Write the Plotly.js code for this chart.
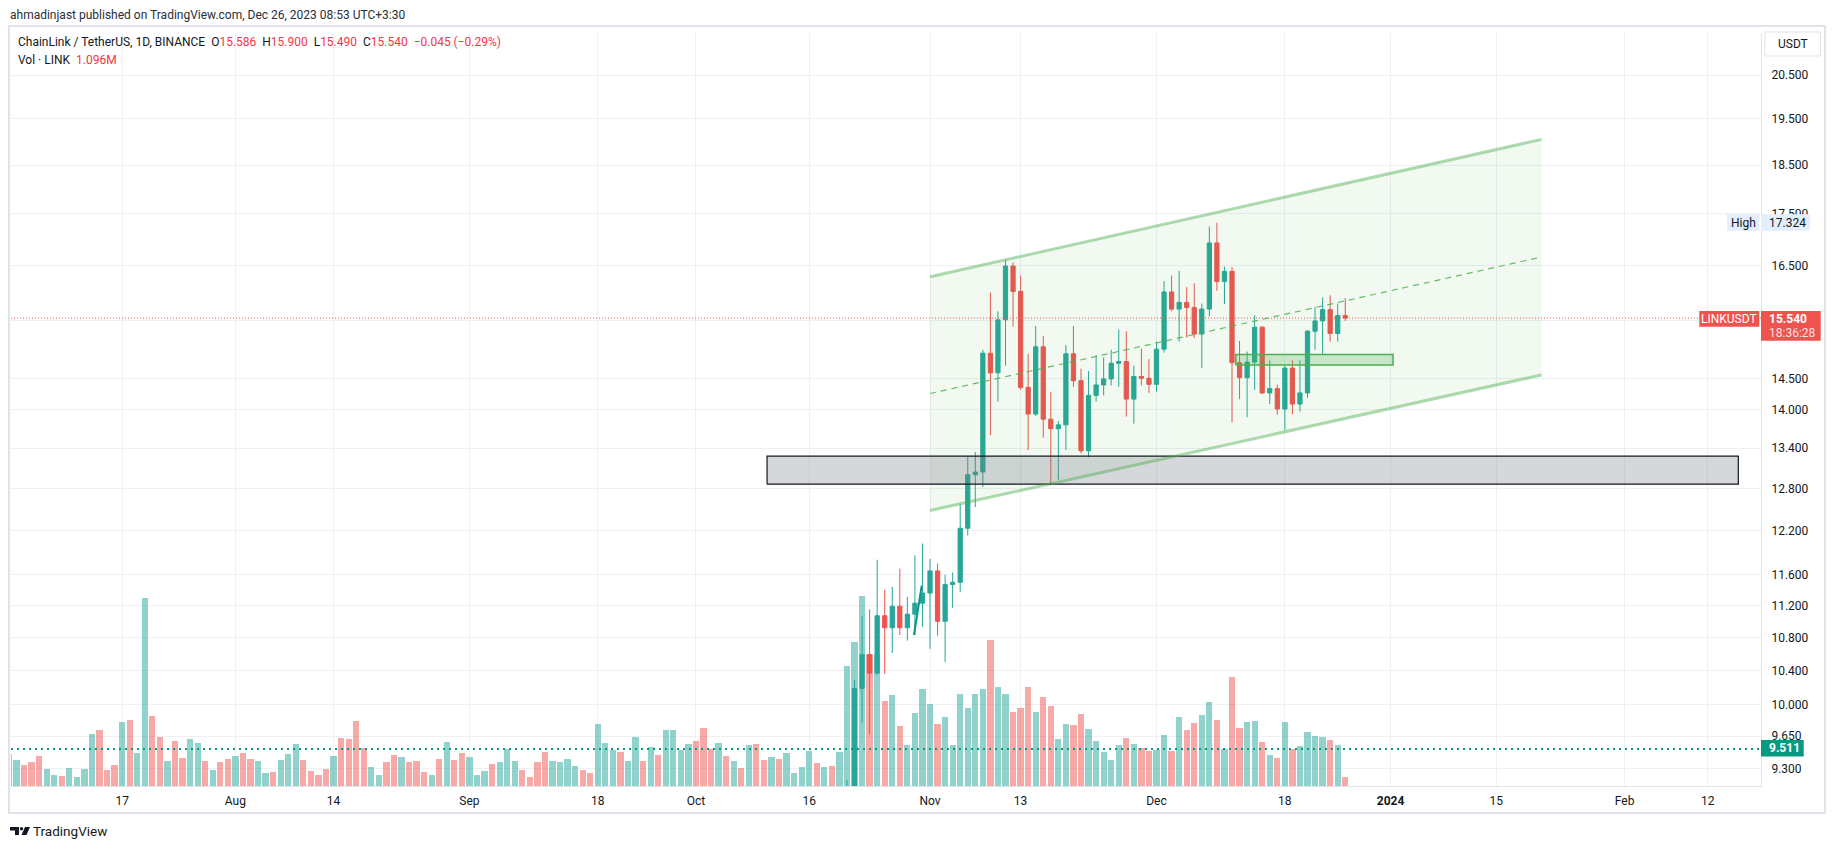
<!DOCTYPE html>
<html><head><meta charset="utf-8">
<script src="https://cdn.plot.ly/plotly-3.0.1.min.js"></script>
<style>html,body{margin:0;padding:0;background:#fff;} #chart{width:1835px;height:849px;}</style>
</head><body><div id="chart"></div>
<script>
// ---------------- DATA ----------------
const candleStart = '2023-10-21';
const opens  = [8.98, 8.98,10.19,10.59,10.37,11.07,10.92,11.19,10.92,11.09,11.23,
  11.36,11.65,11.00,11.47,11.50,12.23,13.00,13.04,14.93,14.60,15.51,16.49,16.02,14.36,13.93,15.04,13.85,13.70,13.76,14.92,14.47,13.36,14.23,14.40,14.50,14.76,14.79,14.17,14.54,14.51,
  14.41,15.00,16.01,15.70,15.82,15.73,15.26,15.70,16.93,16.20,16.39,14.77,14.52,14.78,15.38,14.27,14.34,14.01,14.68,14.09,14.27,15.31,15.49,15.69,15.27,15.586];
const highs  = [9.18,10.29,11.07,11.15,11.80,11.40,11.44,11.68,11.31,11.86,12.02,
  11.81,11.75,11.60,11.63,12.57,13.27,13.34,14.99,16.00,15.66,16.61,16.56,16.31,14.92,15.40,15.23,14.29,13.82,15.07,15.40,14.67,14.63,14.90,14.86,14.99,15.34,15.31,14.72,15.01,14.83,
  15.13,16.21,16.31,16.40,16.10,16.17,15.80,17.25,17.324,16.48,16.47,15.14,14.96,15.59,15.40,14.81,14.40,14.72,14.81,14.81,15.33,15.74,15.91,15.95,15.80,15.900];
const lows   = [8.45, 8.90, 9.80, 9.67,10.35,10.36,10.61,10.83,10.76,10.83,10.93,
  10.66,10.82,10.50,11.17,11.37,12.13,12.53,12.82,13.60,14.13,14.72,15.39,14.32,13.37,13.90,13.56,12.85,12.92,13.37,14.37,13.32,13.26,14.13,14.23,14.39,14.37,13.89,13.78,14.39,14.27,
  14.29,14.94,15.66,15.13,15.20,15.19,14.68,15.57,16.03,15.79,13.80,14.17,13.88,14.32,14.25,14.09,13.92,13.68,13.93,13.97,14.19,14.99,14.91,15.13,15.13,15.490];
const closes = [8.98,10.19,10.59,10.37,11.07,10.92,11.19,10.92,11.09,11.23,11.36,
  11.65,11.00,11.47,11.50,12.23,13.00,13.04,14.93,14.60,15.51,16.49,16.02,14.36,13.93,15.04,13.85,13.70,13.76,14.92,14.47,13.36,14.23,14.40,14.50,14.76,14.79,14.17,14.54,14.51,14.41,
  15.00,16.01,15.70,15.82,15.73,15.26,15.70,16.93,16.20,16.39,14.77,14.52,14.78,15.38,14.27,14.34,14.01,14.68,14.09,14.27,15.31,15.49,15.69,15.27,15.586,15.540];

const volStart = '2023-07-02';
// volume, millions of LINK
const volumes = [
  3.90,3.17,2.56,2.93,3.66,2.07,1.34,1.22,2.20,1.10,2.07,6.34,6.83,1.95,2.56,7.81,8.05,4.03,22.94,8.54,5.98,3.05,5.49,3.42,5.73,5.25,3.05,1.95,2.93,3.29,
  3.66,4.03,3.29,3.05,1.59,1.71,3.17,3.90,5.12,3.17,1.83,1.34,2.07,3.66,5.86,5.73,7.93,4.64,2.32,1.34,2.93,3.78,3.54,2.93,3.05,1.71,1.34,3.29,5.37,3.17,4.03,
  3.54,1.34,1.83,2.68,2.93,4.51,3.05,1.95,1.10,2.93,4.15,3.05,2.93,3.29,2.44,1.95,1.59,7.56,5.25,4.39,4.15,3.05,5.98,3.05,4.76,3.78,6.83,6.83,4.39,5.12,
  5.49,7.08,4.51,5.25,3.66,3.05,2.20,5.00,5.12,3.17,3.54,3.29,4.03,1.59,2.32,4.27,2.81,2.32,2.44,4.15,14.64,17.57,23.18,16.07,16.07,10.33,11.07,7.32,4.97,8.87,11.83,
  9.97,7.53,8.38,4.97,11.19,9.52,11.19,11.83,17.78,12.08,11.19,8.99,9.48,12.04,8.99,10.82,9.72,5.70,7.53,7.41,8.75,6.92,5.45,4.11,3.14,4.97,5.82,5.09,4.60,4.23,
  4.36,6.19,4.23,8.38,6.80,7.65,8.63,10.21,8.02,4.48,13.26,7.04,7.77,7.89,5.33,3.75,3.38,7.77,4.48,4.84,6.55,6.06,5.94,5.58,4.97,1.096];
// up (G) / down (R) days before the first drawn candle (Jul 2 .. Oct 20)
const earlyVolDir = ('GGRRRGGRGGGGRRRGRGGRRGRRGGRGRR' + 'GRRGGRGGGRRRRGRRRRGGRRGRRRGRGRR' +
                     'GGGRGGGRRRRGGGGRRGGGRGGRGRGGGG' + 'RRRGRGRGRRGRGGGGRGRG').split('');

const priceTicks = [9.3, 9.65, 10, 10.4, 10.8, 11.2, 11.6, 12.2, 12.8, 13.4, 14, 14.5, 15.5, 16.5, 17.5, 18.5, 19.5, 20.5];
const dateTicks = ['2023-07-17','2023-08-01','2023-08-14','2023-09-01','2023-09-18','2023-10-01','2023-10-16','2023-11-01','2023-11-13','2023-12-01','2023-12-18','2024-01-01','2024-01-15','2024-02-01','2024-02-12'];
const dateTickLabels = ['17','Aug','14','Sep','18','Oct','16','Nov','13','Dec','18','<b>2024</b>','15','Feb','12'];

// drawings
const channelX = ['2023-11-01', '2024-01-21'];
const channelUpper = [16.29, 19.05];
const channelMid = [14.26, 16.66];
const channelLower = [12.48, 14.565];
const zoneX = ['2023-10-10 10:00', '2024-02-16 01:30'];
const zoneY = [12.86, 13.277];
const boxX = ['2023-12-11 12:00', '2024-01-01 08:00'];
const boxY = [14.73, 14.91];
const trendX = ['2023-10-29 21:00', '2023-10-30 21:36'];
const trendY = [10.83, 11.457];
const hLineLevel = 9.511;
const lastPrice = 15.540;
const highLevel = 17.324;
const lastVolume = '1.096M';
const countdown = '18:36:28';

// ---------------- BUILD ----------------
const DAY = 86400000;
function dayStr(start, i) {
  return new Date(Date.parse(start + 'T00:00:00Z') + i * DAY).toISOString().slice(0, 10);
}
const candleDates = opens.map((_, i) => dayStr(candleStart, i));
const volDates = volumes.map((_, i) => dayStr(volStart, i));
const firstCandleIdx = volDates.indexOf(candleStart);
const volUp = volDates.map((d, i) => {
  if (i < firstCandleIdx) return earlyVolDir[i] === 'G';
  const j = i - firstCandleIdx;
  return closes[j] >= opens[j];
});

const UP = '#26a69a', DN = '#ef5350';
const FONT = 'Roboto, "Liberation Sans", sans-serif';
const X_RANGE = ['2023-07-02 06:40', '2024-02-19 01:35'];
const PLOT = {l: 11, r: 1761, t: 33, b: 786};
const px = x => (x - PLOT.l) / (PLOT.r - PLOT.l);
const py = y => (PLOT.b - y) / (PLOT.b - PLOT.t);

const traces = [];
// volume (base y axis)
traces.push({
  type: 'bar', x: volDates, y: volumes, xaxis: 'x', yaxis: 'y',
  width: 0.83 * DAY,
  marker: {color: volUp.map(u => u ? 'rgba(38,166,154,0.5)' : 'rgba(239,83,80,0.5)'), line: {width: 0}},
  hoverinfo: 'skip'
});
// channel fill
traces.push({
  type: 'scatter', mode: 'lines', xaxis: 'x', yaxis: 'y2',
  x: [channelX[0], channelX[1], channelX[1], channelX[0], channelX[0]],
  y: [channelUpper[0], channelUpper[1], channelLower[1], channelLower[0], channelUpper[0]],
  fill: 'toself', fillcolor: 'rgba(76,175,80,0.08)', line: {width: 0}, hoverinfo: 'skip'
});
// support zone
traces.push({
  type: 'scatter', mode: 'lines', xaxis: 'x', yaxis: 'y2',
  x: [zoneX[0], zoneX[1], zoneX[1], zoneX[0], zoneX[0]],
  y: [zoneY[0], zoneY[0], zoneY[1], zoneY[1], zoneY[0]],
  fill: 'toself', fillcolor: 'rgba(120,123,134,0.3)', line: {width: 1.2, color: '#131722'}, hoverinfo: 'skip'
});
// small green box
traces.push({
  type: 'scatter', mode: 'lines', xaxis: 'x', yaxis: 'y2',
  x: [boxX[0], boxX[1], boxX[1], boxX[0], boxX[0]],
  y: [boxY[0], boxY[0], boxY[1], boxY[1], boxY[0]],
  fill: 'toself', fillcolor: 'rgba(76,175,80,0.25)', line: {width: 1.5, color: '#4caf50'}, hoverinfo: 'skip'
});
// candles
traces.push({
  type: 'candlestick', x: candleDates, open: opens, high: highs, low: lows, close: closes,
  xaxis: 'x', yaxis: 'y2', whiskerwidth: 0,
  increasing: {line: {color: UP, width: 1}, fillcolor: UP},
  decreasing: {line: {color: DN, width: 1}, fillcolor: DN},
  hoverinfo: 'skip'
});
// channel lines
[channelUpper, channelLower].forEach(yy => traces.push({
  type: 'scatter', mode: 'lines', xaxis: 'x', yaxis: 'y2', x: channelX, y: yy,
  line: {color: 'rgba(76,175,80,0.45)', width: 3}, hoverinfo: 'skip'
}));
traces.push({
  type: 'scatter', mode: 'lines', xaxis: 'x', yaxis: 'y2', x: channelX, y: channelMid,
  line: {color: 'rgba(76,175,80,0.85)', width: 1.2, dash: '6px,5px'}, hoverinfo: 'skip'
});
// small trend line
traces.push({
  type: 'scatter', mode: 'lines', xaxis: 'x', yaxis: 'y2', x: trendX, y: trendY,
  line: {color: '#089981', width: 2}, hoverinfo: 'skip'
});
// horizontal levels
traces.push({
  type: 'scatter', mode: 'lines', xaxis: 'x', yaxis: 'y2', x: X_RANGE, y: [hLineLevel, hLineLevel],
  line: {color: '#089981', width: 2, dash: '2px,4px'}, hoverinfo: 'skip'
});
traces.push({
  type: 'scatter', mode: 'lines', xaxis: 'x', yaxis: 'y2', x: X_RANGE, y: [lastPrice, lastPrice],
  line: {color: '#ef5350', width: 1, dash: '1px,2px'}, hoverinfo: 'skip'
});

const pTop = 21.505, pBot = 9.1178;
const VOL_PER_PX = 0.122;

function rect(x0, y0, x1, y1, fill, line, lw) {
  return {type: 'rect', xref: 'paper', yref: 'paper', x0: px(x0), x1: px(x1), y0: py(y0), y1: py(y1),
    fillcolor: fill, line: {color: line || 'rgba(0,0,0,0)', width: lw || 0}, layer: 'above'};
}
function pathPx(pts, fill) {
  const d = pts.map((p, i) => (i ? 'L' : 'M') + px(p[0]).toFixed(5) + ',' + py(p[1]).toFixed(5)).join(' ') + ' Z';
  return {type: 'path', xref: 'paper', yref: 'paper', path: d, fillcolor: fill, line: {width: 0}, layer: 'above'};
}
function ann(x, y, text, o) {
  o = o || {};
  return {xref: 'paper', yref: 'paper', x: px(x), y: py(y), text: text, showarrow: false,
    xanchor: o.xanchor || 'left', yanchor: 'middle', borderpad: 0,
    font: {family: FONT, size: o.size || 12, color: o.color || '#131722'}};
}

const RED = '#f23645';
const shapes = [
  rect(9, 26, 1825, 813, 'rgba(0,0,0,0)', '#e0e3eb', 2),
  rect(1765, 32, 1820.5, 56, '#ffffff', '#e0e3eb', 1),
  rect(1727, 214.3, 1759.3, 230.7, '#e3effd'),
  rect(1761, 214.3, 1810, 230.7, '#e3effd'),
  rect(1699.3, 311, 1759.3, 326.7, '#ef5350'),
  rect(1761, 311, 1820.7, 340.7, '#ef5350'),
  rect(1761, 740, 1803.7, 756.5, '#089981'),
  // TradingView logo
  pathPx([[10, 827], [19, 827], [19, 835], [15, 835], [15, 830.5], [10, 830.5]], '#131722'),
  {type: 'circle', xref: 'paper', yref: 'paper', x0: px(19.8), x1: px(23.2), y0: py(827), y1: py(830.4), fillcolor: '#131722', line: {width: 0}, layer: 'above'},
  pathPx([[25, 827], [30, 827], [26.5, 835], [21.5, 835]], '#131722')
];

const legendText = 'ChainLink / TetherUS, 1D, BINANCE\u00a0\u00a0' +
  'O<span style="color:' + RED + '">' + opens[opens.length - 1].toFixed(3) + '</span>\u00a0\u00a0' +
  'H<span style="color:' + RED + '">' + highs[highs.length - 1].toFixed(3) + '</span>\u00a0\u00a0' +
  'L<span style="color:' + RED + '">' + lows[lows.length - 1].toFixed(3) + '</span>\u00a0\u00a0' +
  'C<span style="color:' + RED + '">' + closes[closes.length - 1].toFixed(3) + '</span>\u00a0\u00a0' +
  '<span style="color:' + RED + '">\u22120.045 (\u22120.29%)</span>';

const annotations = [
  ann(9, 15, 'ahmadinjast published on TradingView.com, Dec 26, 2023 08:53 UTC+3:30', {color: '#2a2e39'}),
  ann(17, 42.3, legendText),
  ann(17, 60, 'Vol \u00b7 LINK\u00a0\u00a0<span style="color:' + RED + '">' + lastVolume + '</span>'),
  ann(1793, 44, 'USDT', {xanchor: 'center'}),
  ann(1743, 222.5, 'High', {xanchor: 'center'}),
  ann(1768, 222.5, highLevel.toFixed(3)),
  ann(1729.3, 319, 'LINKUSDT', {xanchor: 'center', color: '#ffffff'}),
  ann(1768, 318.5, '<b>' + lastPrice.toFixed(3) + '</b>', {color: '#ffffff'}),
  ann(1768, 333, countdown, {color: 'rgba(255,255,255,0.85)'}),
  ann(1768, 748.3, '<b>' + hLineLevel.toFixed(3) + '</b>', {color: '#ffffff'}),
  ann(32, 831, 'TradingView', {size: 13.5, color: '#131722'})
];

const GRID = '#eef0f3';
const layout = {
  width: 1835, height: 849,
  margin: {l: PLOT.l, r: 1835 - PLOT.r, t: PLOT.t, b: 849 - PLOT.b, pad: 0},
  paper_bgcolor: '#ffffff', plot_bgcolor: '#ffffff',
  showlegend: false, boxgap: 0.2, bargap: 0,
  font: {family: FONT, size: 12, color: '#131722'},
  xaxis: {
    type: 'date', range: X_RANGE, tickvals: dateTicks, ticktext: dateTickLabels,
    showgrid: true, gridcolor: GRID, gridwidth: 1, zeroline: false,
    showline: true, linecolor: '#e0e3eb', linewidth: 1, ticks: '', ticklabelstandoff: 4,
    tickfont: {family: FONT, size: 12, color: '#131722'},
    rangeslider: {visible: false}, fixedrange: true
  },
  yaxis: {range: [0, (PLOT.b - PLOT.t) * VOL_PER_PX], visible: false, showgrid: false, zeroline: false, fixedrange: true},
  yaxis2: {
    type: 'log', overlaying: 'y', side: 'right', anchor: 'x',
    range: [Math.log10(pBot), Math.log10(pTop)],
    tickvals: priceTicks, ticktext: priceTicks.map(v => v.toFixed(3)),
    showgrid: true, gridcolor: GRID, gridwidth: 1, zeroline: false,
    showline: true, linecolor: '#e0e3eb', linewidth: 1, ticks: '', ticklabelstandoff: 7,
    tickfont: {family: FONT, size: 12, color: '#131722'}, fixedrange: true
  },
  shapes: shapes, annotations: annotations
};

Plotly.newPlot('chart', traces, layout, {staticPlot: true, displayModeBar: false});
</script>
</body></html>
